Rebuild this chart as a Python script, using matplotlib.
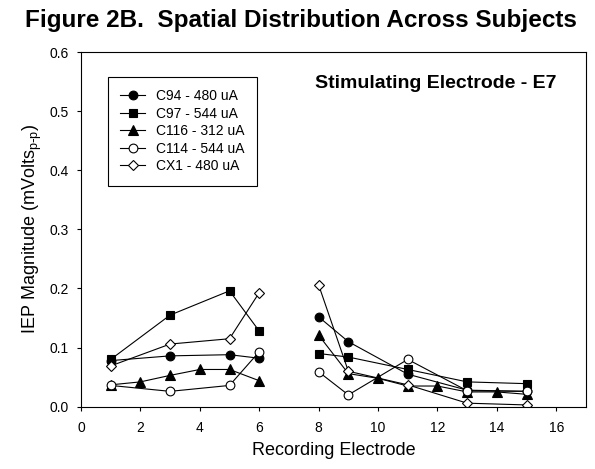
import numpy as np
import matplotlib
matplotlib.use("Agg")
import matplotlib.pyplot as plt

plt.rcParams["font.family"] = ["Liberation Sans", "DejaVu Sans"]

# Recording electrode numbers (gap at 7 = stimulating electrode)
x_main = [1, 3, 5, 6, np.nan, 8, 9, 11, 13, 15]
x_c116 = [1, 2, 3, 4, 5, 6, np.nan, 8, 9, 10, 11, 12, 13, 14, 15]

c94 = [0.078, 0.086, 0.088, 0.082, np.nan, 0.152, 0.110, 0.055, 0.028, 0.026]
c97 = [0.080, 0.155, 0.196, 0.128, np.nan, 0.090, 0.084, 0.063, 0.042, 0.039]
c116 = [0.037, 0.042, 0.053, 0.063, 0.063, 0.044, np.nan,
        0.121, 0.056, 0.048, 0.035, 0.035, 0.025, 0.025, 0.021]
c114 = [0.036, 0.026, 0.036, 0.093, np.nan, 0.059, 0.020, 0.080, 0.027, 0.026]
cx1 = [0.069, 0.106, 0.115, 0.193, np.nan, 0.206, 0.060, 0.037, 0.006, 0.003]

labels = ["C94 - 480 uA", "C97 - 544 uA", "C116 - 312 uA",
          "C114 - 544 uA", "CX1 - 480 uA"]

fig = plt.figure(figsize=(5.95, 4.69), dpi=100)
ax = fig.add_axes([0.1361, 0.1328, 0.8488, 0.7563])

style = dict(color="black", lw=0.8, mec="black", mew=0.8)
ax.plot(x_main, c94, marker="o", ms=6.3, mfc="black", label=labels[0], **style)
ax.plot(x_main, c97, marker="s", ms=5.6, mfc="black", label=labels[1], **style)
ax.plot(x_c116, c116, marker="^", ms=6.5, mfc="black", label=labels[2], **style)
ax.plot(x_main, c114, marker="o", ms=6.3, mfc="white", label=labels[3], **style)
ax.plot(x_main, cx1, marker="D", ms=5.5, mfc="white", label=labels[4], **style)

ax.set_xlim(0, 17)
ax.set_ylim(0, 0.6)
ax.set_xticks(np.arange(0, 17, 2))
ax.set_yticks(np.arange(0, 0.61, 0.1))
ax.set_yticklabels([f"{v:.1f}" for v in np.arange(0, 0.61, 0.1)])
ax.tick_params(direction="out", length=3, width=0.8, labelsize=10)
ax.tick_params(axis="x", pad=7)
ax.tick_params(axis="y", pad=6)
for sp in ax.spines.values():
    sp.set_linewidth(0.8)

ax.set_xlabel("Recording Electrode", fontsize=13, labelpad=5)
ax.set_ylabel("IEP Magnitude (mVolts$_{\\mathregular{p}\\text{-}\\mathregular{p}}$)",
              fontsize=13, labelpad=4)

fig.text(0.505, 0.9418, "Figure 2B.  Spatial Distribution Across Subjects",
         fontsize=17.5, fontweight="bold", ha="center", va="baseline")

ax.text(0.9406, 0.8977, "Stimulating Electrode - E7", transform=ax.transAxes,
        ha="right", va="baseline", fontsize=14, fontweight="bold")

leg = ax.legend(loc="upper left", bbox_to_anchor=(0.053, 0.930), borderaxespad=0,
                fontsize=10, handlelength=1.8, handletextpad=0.8,
                fancybox=False, edgecolor="black", framealpha=1,
                labelspacing=0.25, borderpad=0.9)
leg.get_frame().set_linewidth(0.8)

fig.savefig("out.png", dpi=100)
